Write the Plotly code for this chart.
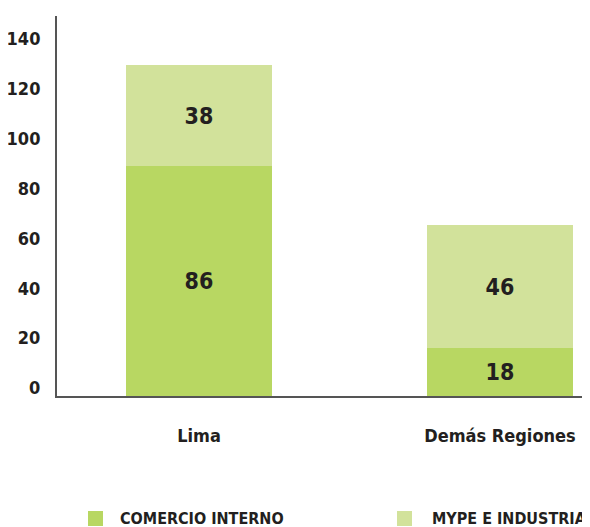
import plotly.graph_objects as go

categories = ["Lima", "Demás Regiones"]
comercio_interno = [86, 18]
mype_industria = [38, 46]
series_names = ["COMERCIO INTERNO", "MYPE E INDUSTRIA"]
tick_labels = ["0", "20", "40", "60", "80", "100", "120", "140"]

# positions where the printed tick labels sit on the reference's axis
tick_positions = [3.0, 21.7, 40.3, 59.0, 77.7, 96.4, 115.0, 133.7]

FONT = "DejaVu Sans Condensed, Liberation Sans Narrow, Arial Narrow, sans-serif"
DARK = "#231f20"
C1 = "#b8d762"
C2 = "#d2e29b"
colors = [C1, C2]

# the page body has an 8px default margin; the figure is sized to fill the rest
OFF = 8
W, H = 590 - OFF, 527 - OFF
ML, MR, MT, MB = 57 - OFF, 0, 16 - OFF, 131
PW, PH = W - ML - MR, H - MT - MB

fig = go.Figure()
for name, vals, col in zip(series_names, [comercio_interno, mype_industria], colors):
    fig.add_trace(go.Bar(
        x=categories, y=vals, name=name,
        marker=dict(color=col, line=dict(width=0)),
        width=0.485,
        text=[str(v) for v in vals],
        textposition="inside", insidetextanchor="middle", textangle=0,
        textfont=dict(family=FONT, size=23, color=DARK, weight="bold"),
        hoverinfo="skip", showlegend=False,
    ))

# manual legend (squares + labels) below the plot; pixel positions on the page
def px_x(px):
    return (px - OFF - ML) / PW

def px_y(py):
    return (H - MB - (py - OFF)) / PH

legend_sq_left = [88, 397]
legend_txt_left = [118, 430]
shapes, annos = [], []
for i, name in enumerate(series_names):
    x0 = legend_sq_left[i]
    shapes.append(dict(type="rect", xref="paper", yref="paper",
                       x0=px_x(x0), x1=px_x(x0 + 15), y0=px_y(526), y1=px_y(511),
                       fillcolor=colors[i], line=dict(width=0)))
    annos.append(dict(xref="paper", yref="paper", x=px_x(legend_txt_left[i]), y=px_y(518.5),
                      xanchor="left", yanchor="middle", showarrow=False, text=name,
                      font=dict(family=FONT, size=16, color=DARK, weight="bold")))

fig.update_layout(
    barmode="stack",
    width=W, height=H,
    margin=dict(l=ML, r=MR, t=MT, b=MB, autoexpand=False),
    paper_bgcolor="white", plot_bgcolor="white",
    font=dict(family=FONT, color=DARK, size=18, weight="bold"),
    showlegend=False,
    shapes=shapes, annotations=annos,
    xaxis=dict(
        type="category", range=[-0.4718, 1.299], automargin=False,
        showline=True, linecolor="#555555", linewidth=2,
        showgrid=False, zeroline=False,
        ticks="outside", ticklen=22, tickcolor="rgba(0,0,0,0)",
        tickfont=dict(family=FONT, size=18, color=DARK, weight="bold"),
    ),
    yaxis=dict(
        range=[0, 142.3], automargin=False,
        showline=True, linecolor="#555555", linewidth=2,
        showgrid=False, zeroline=False,
        tickvals=tick_positions, ticktext=tick_labels,
        ticks="outside", ticklen=11, tickcolor="rgba(0,0,0,0)",
        tickfont=dict(family=FONT, size=18, color=DARK, weight="bold"),
    ),
)

fig.write_html("out.html")
